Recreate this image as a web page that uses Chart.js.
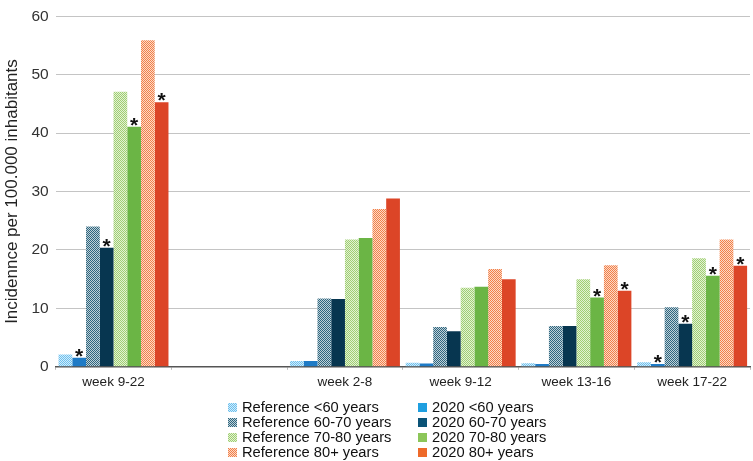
<!DOCTYPE html>
<html lang="en">
<head>
  <meta charset="UTF-8">
  <title>Incidence chart</title>
  <script src="https://cdn.jsdelivr.net/npm/chart.js"></script>
  <style>
    html, body { margin: 0; padding: 0; background: #fff; }
    #wrap { width: 753px; height: 461px; }
  </style>
</head>
<body>
  <div id="wrap"><canvas id="chart"></canvas></div>

  <script>
    const categories = ['week 9-22', '', 'week 2-8', 'week 9-12', 'week 13-16', 'week 17-22'];

    const ref60 = [2.1, null, 1.0, 0.7, 0.6, 0.8];
    const y2020u60 = [1.55, null, 1.0, 0.55, 0.5, 0.5];
    const ref6070 = [24.0, null, 11.7, 6.8, 7.0, 10.2];
    const y2020a6070 = [20.4, null, 11.6, 6.1, 7.0, 7.35];
    const ref7080 = [47.1, null, 21.8, 13.55, 15.0, 18.6];
    const y2020a7080 = [41.1, null, 22.05, 13.7, 11.85, 15.6];
    const ref80 = [55.9, null, 27.0, 16.75, 17.4, 21.8];
    const y2020o80 = [45.3, null, 28.8, 15.0, 13.0, 17.3];

    // significance markers (*) for the 2020 series
    const star60 = [1, 0, 0, 0, 0, 1];
    const star6070 = [1, 0, 0, 0, 0, 1];
    const star7080 = [1, 0, 0, 0, 1, 1];
    const star80 = [1, 0, 0, 0, 1, 1];

    const ctx = document.getElementById('chart').getContext('2d');

    // fine diagonal hatching like the reference bars
    function hatch(fg) {
      const c = document.createElement('canvas');
      c.width = 2; c.height = 2;
      const g = c.getContext('2d');
      g.fillStyle = '#ffffff';
      g.fillRect(0, 0, 2, 2);
      g.fillStyle = fg;
      g.fillRect(0, 0, 1, 1);
      g.fillRect(1, 1, 1, 1);
      g.globalAlpha = 0.3;
      g.fillRect(1, 0, 1, 1);
      g.fillRect(0, 1, 1, 1);
      return ctx.createPattern(c, 'repeat');
    }

    const series = [
      { label: 'Reference <60 years', data: ref60, color: hatch('#6cc0ee'), box: null, stars: null },
      { label: '2020 <60 years', data: y2020u60, color: '#1f7bc6', box: '#1f9fe0', stars: star60 },
      { label: 'Reference 60-70 years', data: ref6070, color: hatch('#2f667f'), box: null, stars: null },
      { label: '2020 60-70 years', data: y2020a6070, color: '#073650', box: '#0b5377', stars: star6070 },
      { label: 'Reference 70-80 years', data: ref7080, color: hatch('#a0cf72'), box: null, stars: null },
      { label: '2020 70-80 years', data: y2020a7080, color: '#6bb545', box: '#8cc659', stars: star7080 },
      { label: 'Reference 80+ years', data: ref80, color: hatch('#f28048'), box: null, stars: null },
      { label: '2020 80+ years', data: y2020o80, color: '#dc4527', box: '#ee6a2a', stars: star80 }
    ];

    const starPlugin = {
      id: 'stars',
      afterDatasetsDraw(chart) {
        const c = chart.ctx;
        c.save();
        c.fillStyle = '#111';
        c.font = 'bold 21px "Liberation Sans", Arial, sans-serif';
        c.textAlign = 'center';
        c.textBaseline = 'alphabetic';
        series.forEach((s, i) => {
          if (!s.stars) return;
          const meta = chart.getDatasetMeta(i);
          meta.data.forEach((bar, j) => {
            if (s.stars[j]) c.fillText('*', bar.x, bar.y + 5);
          });
        });
        c.restore();
      }
    };

    const legendPlugin = {
      id: 'customLegend',
      afterDraw(chart) {
        const c = chart.ctx;
        c.save();
        c.font = '14.7px "Liberation Sans", Arial, sans-serif';
        c.textBaseline = 'middle';
        const cols = [228, 418];
        const rows = [407, 422, 437, 452];
        series.forEach((s, i) => {
          const x = cols[i % 2];
          const y = rows[Math.floor(i / 2)];
          c.fillStyle = s.box || s.color;
          c.fillRect(x, y - 4, 9, 9);
          c.fillStyle = '#111';
          c.fillText(s.label, x + 14, y + 1);
        });
        c.restore();
      }
    };

    new Chart(ctx, {
      type: 'bar',
      data: {
        labels: categories,
        datasets: series.map(s => ({
          label: s.label,
          data: s.data,
          backgroundColor: s.color,
          borderWidth: 0,
          barPercentage: 1.0,
          categoryPercentage: 0.95
        }))
      },
      options: {
        responsive: true,
        maintainAspectRatio: false,
        animation: false,
        layout: { padding: { top: 7, right: 3, bottom: 67, left: 2 } },
        plugins: {
          legend: { display: false },
          tooltip: { enabled: false }
        },
        scales: {
          x: {
            grid: { drawOnChartArea: false, drawTicks: true, tickLength: 3, color: '#bbb' },
            border: { color: '#555', width: 1.5 },
            ticks: { color: '#222', font: { family: 'Liberation Sans', size: 13.5 }, padding: 4 }
          },
          y: {
            min: 0,
            max: 60,
            ticks: { stepSize: 10, color: '#333', font: { family: 'Liberation Sans', size: 15.5 }, padding: 7 },
            grid: { color: '#c4c4c4', drawTicks: false },
            border: { display: false },
            title: {
              display: true,
              text: 'Incidennce per 100.000 inhabitants',
              color: '#222',
              font: { family: 'Liberation Sans', size: 17 },
              padding: { top: 0, bottom: 2 }
            }
          }
        }
      },
      plugins: [starPlugin, legendPlugin]
    });
  </script>
</body>
</html>
